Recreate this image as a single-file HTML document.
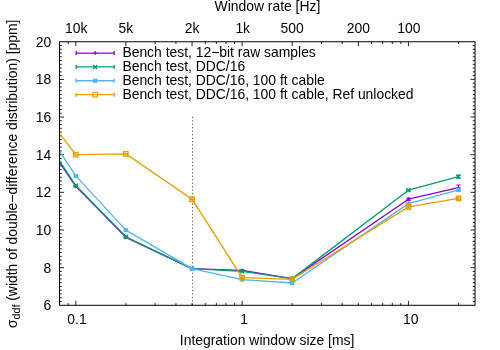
<!DOCTYPE html>
<html><head><meta charset="utf-8"><title>plot</title>
<style>html,body{margin:0;padding:0;background:#fff;}body{width:500px;height:350px;overflow:hidden;}svg{display:block;will-change:transform;}text{font-family:"Liberation Sans",sans-serif;font-size:13.9px;fill:#000;}</style>
</head><body>
<svg width="500" height="350" viewBox="0 0 500 350">
<rect x="0" y="0" width="500" height="350" fill="#ffffff"/>
<path d="M59.5 301.54h2.3M475.0 301.54h-2.3M59.5 297.77h2.3M475.0 297.77h-2.3M59.5 294.00h2.3M475.0 294.00h-2.3M59.5 290.24h2.3M475.0 290.24h-2.3M59.5 286.48h2.3M475.0 286.48h-2.3M59.5 282.71h2.3M475.0 282.71h-2.3M59.5 278.94h2.3M475.0 278.94h-2.3M59.5 275.18h2.3M475.0 275.18h-2.3M59.5 271.42h2.3M475.0 271.42h-2.3M59.5 267.65h4.5M475.0 267.65h-4.5M59.5 263.89h2.3M475.0 263.89h-2.3M59.5 260.12h2.3M475.0 260.12h-2.3M59.5 256.36h2.3M475.0 256.36h-2.3M59.5 252.59h2.3M475.0 252.59h-2.3M59.5 248.82h2.3M475.0 248.82h-2.3M59.5 245.06h2.3M475.0 245.06h-2.3M59.5 241.30h2.3M475.0 241.30h-2.3M59.5 237.53h2.3M475.0 237.53h-2.3M59.5 233.76h2.3M475.0 233.76h-2.3M59.5 230.00h4.5M475.0 230.00h-4.5M59.5 226.24h2.3M475.0 226.24h-2.3M59.5 222.47h2.3M475.0 222.47h-2.3M59.5 218.70h2.3M475.0 218.70h-2.3M59.5 214.94h2.3M475.0 214.94h-2.3M59.5 211.18h2.3M475.0 211.18h-2.3M59.5 207.41h2.3M475.0 207.41h-2.3M59.5 203.65h2.3M475.0 203.65h-2.3M59.5 199.88h2.3M475.0 199.88h-2.3M59.5 196.12h2.3M475.0 196.12h-2.3M59.5 192.35h4.5M475.0 192.35h-4.5M59.5 188.59h2.3M475.0 188.59h-2.3M59.5 184.82h2.3M475.0 184.82h-2.3M59.5 181.05h2.3M475.0 181.05h-2.3M59.5 177.29h2.3M475.0 177.29h-2.3M59.5 173.53h2.3M475.0 173.53h-2.3M59.5 169.76h2.3M475.0 169.76h-2.3M59.5 166.00h2.3M475.0 166.00h-2.3M59.5 162.23h2.3M475.0 162.23h-2.3M59.5 158.47h2.3M475.0 158.47h-2.3M59.5 154.70h4.5M475.0 154.70h-4.5M59.5 150.93h2.3M475.0 150.93h-2.3M59.5 147.17h2.3M475.0 147.17h-2.3M59.5 143.41h2.3M475.0 143.41h-2.3M59.5 139.64h2.3M475.0 139.64h-2.3M59.5 135.88h2.3M475.0 135.88h-2.3M59.5 132.11h2.3M475.0 132.11h-2.3M59.5 128.34h2.3M475.0 128.34h-2.3M59.5 124.58h2.3M475.0 124.58h-2.3M59.5 120.81h2.3M475.0 120.81h-2.3M59.5 117.05h4.5M475.0 117.05h-4.5M59.5 113.28h2.3M475.0 113.28h-2.3M59.5 109.52h2.3M475.0 109.52h-2.3M59.5 105.75h2.3M475.0 105.75h-2.3M59.5 101.99h2.3M475.0 101.99h-2.3M59.5 98.22h2.3M475.0 98.22h-2.3M59.5 94.46h2.3M475.0 94.46h-2.3M59.5 90.70h2.3M475.0 90.70h-2.3M59.5 86.93h2.3M475.0 86.93h-2.3M59.5 83.16h2.3M475.0 83.16h-2.3M59.5 79.40h4.5M475.0 79.40h-4.5M59.5 75.63h2.3M475.0 75.63h-2.3M59.5 71.87h2.3M475.0 71.87h-2.3M59.5 68.10h2.3M475.0 68.10h-2.3M59.5 64.34h2.3M475.0 64.34h-2.3M59.5 60.58h2.3M475.0 60.58h-2.3M59.5 56.81h2.3M475.0 56.81h-2.3M59.5 53.05h2.3M475.0 53.05h-2.3M59.5 49.28h2.3M475.0 49.28h-2.3M59.5 45.51h2.3M475.0 45.51h-2.3M68.19 305.3v-2.3M68.19 41.75v2.3M75.80 305.3v-4.5M75.80 41.75v4.5M125.87 305.3v-2.3M125.87 41.75v4.5M155.15 305.3v-2.3M155.15 41.75v2.3M175.93 305.3v-2.3M175.93 41.75v2.3M192.05 305.3v-2.3M192.05 41.75v4.5M205.22 305.3v-2.3M205.22 41.75v2.3M216.36 305.3v-2.3M216.36 41.75v2.3M226.00 305.3v-2.3M226.00 41.75v2.3M234.51 305.3v-2.3M234.51 41.75v2.3M242.12 305.3v-4.5M242.12 41.75v4.5M292.19 305.3v-2.3M292.19 41.75v4.5M321.47 305.3v-2.3M321.47 41.75v2.3M342.25 305.3v-2.3M342.25 41.75v2.3M358.37 305.3v-2.3M358.37 41.75v4.5M371.54 305.3v-2.3M371.54 41.75v2.3M382.68 305.3v-2.3M382.68 41.75v2.3M392.32 305.3v-2.3M392.32 41.75v2.3M400.83 305.3v-2.3M400.83 41.75v2.3M408.44 305.3v-4.5M408.44 41.75v4.5M458.51 305.3v-2.3M458.51 41.75v2.3" stroke="#000" stroke-width="0.85" fill="none"/>
<path d="M192.5 116.7V305.3" stroke="#000" stroke-width="0.8" stroke-dasharray="1.25 2.215" fill="none" opacity="0.8"/>
<text x="51.3" y="310.25" text-anchor="end">6</text>
<text x="51.3" y="272.60" text-anchor="end">8</text>
<text x="51.3" y="234.95" text-anchor="end">10</text>
<text x="51.3" y="197.30" text-anchor="end">12</text>
<text x="51.3" y="159.65" text-anchor="end">14</text>
<text x="51.3" y="122.00" text-anchor="end">16</text>
<text x="51.3" y="84.35" text-anchor="end">18</text>
<text x="51.3" y="46.70" text-anchor="end">20</text>
<text x="77.00" y="323.8" text-anchor="middle">0.1</text>
<text x="244.12" y="323.8" text-anchor="middle">1</text>
<text x="410.64" y="323.8" text-anchor="middle">10</text>
<text x="76.20" y="32.7" text-anchor="middle">10k</text>
<text x="125.87" y="32.7" text-anchor="middle">5k</text>
<text x="192.05" y="32.7" text-anchor="middle">2k</text>
<text x="242.72" y="32.7" text-anchor="middle">1k</text>
<text x="292.19" y="32.7" text-anchor="middle">500</text>
<text x="358.37" y="32.7" text-anchor="middle">200</text>
<text x="408.94" y="32.7" text-anchor="middle">100</text>
<text x="267.4" y="11.2" text-anchor="middle">Window rate [Hz]</text>
<text x="267.1" y="345.0" text-anchor="middle">Integration window size [ms]</text>
<text transform="translate(16.8 173.8) rotate(-90)" text-anchor="middle">σ<tspan font-size="10.7px" dy="3">ddf</tspan><tspan dy="-3"> (width of double−difference distribution) [ppm]</tspan></text>
<text x="122.4" y="57.40">Bench test, 12−bit raw samples</text>
<path d="M76.2 53.05H114.2M76.2 51.05v4M114.2 51.05v4" stroke="#9400d3" stroke-width="1.35" fill="none"/>
<path d="M93.20 53.05h4.0M95.20 51.05v4.0" stroke="#9400d3" stroke-width="1.1" fill="none"/>
<polyline points="59.50,162.40 75.80,186.30 125.87,237.30 192.05,268.70 242.12,270.40 292.19,278.60 408.44,199.20 458.51,187.60" stroke="#9400d3" stroke-width="1.35" fill="none" stroke-linejoin="round"/>
<path d="M75.80 185.80v1.00M73.60 185.80h4.4M73.60 186.80h4.4" stroke="#9400d3" stroke-width="1.1" fill="none"/>
<path d="M73.80 186.30h4.0M75.80 184.30v4.0" stroke="#9400d3" stroke-width="1.1" fill="none"/>
<path d="M125.87 236.80v1.00M123.67 236.80h4.4M123.67 237.80h4.4" stroke="#9400d3" stroke-width="1.1" fill="none"/>
<path d="M123.87 237.30h4.0M125.87 235.30v4.0" stroke="#9400d3" stroke-width="1.1" fill="none"/>
<path d="M192.05 268.30v0.80M189.85 268.30h4.4M189.85 269.10h4.4" stroke="#9400d3" stroke-width="1.1" fill="none"/>
<path d="M190.05 268.70h4.0M192.05 266.70v4.0" stroke="#9400d3" stroke-width="1.1" fill="none"/>
<path d="M242.12 270.00v0.80M239.92 270.00h4.4M239.92 270.80h4.4" stroke="#9400d3" stroke-width="1.1" fill="none"/>
<path d="M240.12 270.40h4.0M242.12 268.40v4.0" stroke="#9400d3" stroke-width="1.1" fill="none"/>
<path d="M292.19 278.20v0.80M289.99 278.20h4.4M289.99 279.00h4.4" stroke="#9400d3" stroke-width="1.1" fill="none"/>
<path d="M290.19 278.60h4.0M292.19 276.60v4.0" stroke="#9400d3" stroke-width="1.1" fill="none"/>
<path d="M408.44 198.00v2.40M406.24 198.00h4.4M406.24 200.40h4.4" stroke="#9400d3" stroke-width="1.1" fill="none"/>
<path d="M406.44 199.20h4.0M408.44 197.20v4.0" stroke="#9400d3" stroke-width="1.1" fill="none"/>
<path d="M458.51 185.00v5.20M456.31 185.00h4.4M456.31 190.20h4.4" stroke="#9400d3" stroke-width="1.1" fill="none"/>
<path d="M456.51 187.60h4.0M458.51 185.60v4.0" stroke="#9400d3" stroke-width="1.1" fill="none"/>
<text x="122.4" y="71.27">Bench test, DDC/16</text>
<path d="M76.2 66.92H114.2M76.2 64.92v4M114.2 64.92v4" stroke="#009e73" stroke-width="1.35" fill="none"/>
<path d="M93.20 64.92l4.0 4.0M93.20 68.92l4.0 -4.0" stroke="#009e73" stroke-width="1.3" fill="none"/>
<polyline points="59.50,160.80 75.80,185.50 125.87,236.80 192.05,268.70 242.12,271.40 292.19,278.60 408.44,190.20 458.51,176.70" stroke="#009e73" stroke-width="1.35" fill="none" stroke-linejoin="round"/>
<path d="M75.80 185.00v1.00M73.60 185.00h4.4M73.60 186.00h4.4" stroke="#009e73" stroke-width="1.1" fill="none"/>
<path d="M73.80 183.50l4.0 4.0M73.80 187.50l4.0 -4.0" stroke="#009e73" stroke-width="1.3" fill="none"/>
<path d="M125.87 236.30v1.00M123.67 236.30h4.4M123.67 237.30h4.4" stroke="#009e73" stroke-width="1.1" fill="none"/>
<path d="M123.87 234.80l4.0 4.0M123.87 238.80l4.0 -4.0" stroke="#009e73" stroke-width="1.3" fill="none"/>
<path d="M192.05 268.30v0.80M189.85 268.30h4.4M189.85 269.10h4.4" stroke="#009e73" stroke-width="1.1" fill="none"/>
<path d="M190.05 266.70l4.0 4.0M190.05 270.70l4.0 -4.0" stroke="#009e73" stroke-width="1.3" fill="none"/>
<path d="M242.12 271.00v0.80M239.92 271.00h4.4M239.92 271.80h4.4" stroke="#009e73" stroke-width="1.1" fill="none"/>
<path d="M240.12 269.40l4.0 4.0M240.12 273.40l4.0 -4.0" stroke="#009e73" stroke-width="1.3" fill="none"/>
<path d="M292.19 278.20v0.80M289.99 278.20h4.4M289.99 279.00h4.4" stroke="#009e73" stroke-width="1.1" fill="none"/>
<path d="M290.19 276.60l4.0 4.0M290.19 280.60l4.0 -4.0" stroke="#009e73" stroke-width="1.3" fill="none"/>
<path d="M408.44 189.50v1.40M406.24 189.50h4.4M406.24 190.90h4.4" stroke="#009e73" stroke-width="1.1" fill="none"/>
<path d="M406.44 188.20l4.0 4.0M406.44 192.20l4.0 -4.0" stroke="#009e73" stroke-width="1.3" fill="none"/>
<path d="M458.51 175.10v3.20M456.31 175.10h4.4M456.31 178.30h4.4" stroke="#009e73" stroke-width="1.1" fill="none"/>
<path d="M456.51 174.70l4.0 4.0M456.51 178.70l4.0 -4.0" stroke="#009e73" stroke-width="1.3" fill="none"/>
<text x="122.4" y="85.14">Bench test, DDC/16, 100 ft cable</text>
<path d="M76.2 80.79H114.2M76.2 78.79v4M114.2 78.79v4" stroke="#56b4e9" stroke-width="1.35" fill="none"/>
<path d="M93.20 80.79h4.0M95.20 78.79v4.0M93.20 78.79l4.0 4.0M93.20 82.79l4.0 -4.0" stroke="#56b4e9" stroke-width="1.3" fill="none"/>
<polyline points="59.50,150.90 75.80,175.90 125.87,230.10 192.05,268.70 242.12,279.60 292.19,283.00 408.44,203.60 458.51,189.80" stroke="#56b4e9" stroke-width="1.35" fill="none" stroke-linejoin="round"/>
<path d="M75.80 175.40v1.00M73.60 175.40h4.4M73.60 176.40h4.4" stroke="#56b4e9" stroke-width="1.1" fill="none"/>
<path d="M73.80 175.90h4.0M75.80 173.90v4.0M73.80 173.90l4.0 4.0M73.80 177.90l4.0 -4.0" stroke="#56b4e9" stroke-width="1.3" fill="none"/>
<path d="M125.87 229.60v1.00M123.67 229.60h4.4M123.67 230.60h4.4" stroke="#56b4e9" stroke-width="1.1" fill="none"/>
<path d="M123.87 230.10h4.0M125.87 228.10v4.0M123.87 228.10l4.0 4.0M123.87 232.10l4.0 -4.0" stroke="#56b4e9" stroke-width="1.3" fill="none"/>
<path d="M192.05 268.30v0.80M189.85 268.30h4.4M189.85 269.10h4.4" stroke="#56b4e9" stroke-width="1.1" fill="none"/>
<path d="M190.05 268.70h4.0M192.05 266.70v4.0M190.05 266.70l4.0 4.0M190.05 270.70l4.0 -4.0" stroke="#56b4e9" stroke-width="1.3" fill="none"/>
<path d="M242.12 279.20v0.80M239.92 279.20h4.4M239.92 280.00h4.4" stroke="#56b4e9" stroke-width="1.1" fill="none"/>
<path d="M240.12 279.60h4.0M242.12 277.60v4.0M240.12 277.60l4.0 4.0M240.12 281.60l4.0 -4.0" stroke="#56b4e9" stroke-width="1.3" fill="none"/>
<path d="M292.19 282.50v1.00M289.99 282.50h4.4M289.99 283.50h4.4" stroke="#56b4e9" stroke-width="1.1" fill="none"/>
<path d="M290.19 283.00h4.0M292.19 281.00v4.0M290.19 281.00l4.0 4.0M290.19 285.00l4.0 -4.0" stroke="#56b4e9" stroke-width="1.3" fill="none"/>
<path d="M408.44 202.60v2.00M406.24 202.60h4.4M406.24 204.60h4.4" stroke="#56b4e9" stroke-width="1.1" fill="none"/>
<path d="M406.44 203.60h4.0M408.44 201.60v4.0M406.44 201.60l4.0 4.0M406.44 205.60l4.0 -4.0" stroke="#56b4e9" stroke-width="1.3" fill="none"/>
<path d="M458.51 188.30v3.00M456.31 188.30h4.4M456.31 191.30h4.4" stroke="#56b4e9" stroke-width="1.1" fill="none"/>
<path d="M456.51 189.80h4.0M458.51 187.80v4.0M456.51 187.80l4.0 4.0M456.51 191.80l4.0 -4.0" stroke="#56b4e9" stroke-width="1.3" fill="none"/>
<text x="122.4" y="99.01">Bench test, DDC/16, 100 ft cable, Ref unlocked</text>
<path d="M76.2 94.66H114.2M76.2 92.66v4M114.2 92.66v4" stroke="#e69f00" stroke-width="1.35" fill="none"/>
<rect x="92.90" y="92.36" width="4.6" height="4.6" stroke="#e69f00" stroke-width="1.2" fill="#e69f00" fill-opacity="0"/>
<polyline points="59.50,133.60 75.80,154.70 125.87,153.90 192.05,199.20 242.12,277.60 292.19,279.30 408.44,206.90 458.51,198.30" stroke="#e69f00" stroke-width="1.35" fill="none" stroke-linejoin="round"/>
<path d="M75.80 154.40v0.60M73.60 154.40h4.4M73.60 155.00h4.4" stroke="#e69f00" stroke-width="1.1" fill="none"/>
<rect x="73.50" y="152.40" width="4.6" height="4.6" stroke="#e69f00" stroke-width="1.2" fill="#e69f00" fill-opacity="0.2"/>
<path d="M125.87 153.60v0.60M123.67 153.60h4.4M123.67 154.20h4.4" stroke="#e69f00" stroke-width="1.1" fill="none"/>
<rect x="123.57" y="151.60" width="4.6" height="4.6" stroke="#e69f00" stroke-width="1.2" fill="#e69f00" fill-opacity="0.2"/>
<path d="M192.05 198.80v0.80M189.85 198.80h4.4M189.85 199.60h4.4" stroke="#e69f00" stroke-width="1.1" fill="none"/>
<rect x="189.75" y="196.90" width="4.6" height="4.6" stroke="#e69f00" stroke-width="1.2" fill="#e69f00" fill-opacity="0.2"/>
<path d="M242.12 277.00v1.20M239.92 277.00h4.4M239.92 278.20h4.4" stroke="#e69f00" stroke-width="1.1" fill="none"/>
<rect x="239.82" y="275.30" width="4.6" height="4.6" stroke="#e69f00" stroke-width="1.2" fill="#e69f00" fill-opacity="0.2"/>
<path d="M292.19 278.70v1.20M289.99 278.70h4.4M289.99 279.90h4.4" stroke="#e69f00" stroke-width="1.1" fill="none"/>
<rect x="289.89" y="277.00" width="4.6" height="4.6" stroke="#e69f00" stroke-width="1.2" fill="#e69f00" fill-opacity="0.2"/>
<path d="M408.44 205.80v2.20M406.24 205.80h4.4M406.24 208.00h4.4" stroke="#e69f00" stroke-width="1.1" fill="none"/>
<rect x="406.14" y="204.60" width="4.6" height="4.6" stroke="#e69f00" stroke-width="1.2" fill="#e69f00" fill-opacity="0.2"/>
<path d="M458.51 197.20v2.20M456.31 197.20h4.4M456.31 199.40h4.4" stroke="#e69f00" stroke-width="1.1" fill="none"/>
<rect x="456.21" y="196.00" width="4.6" height="4.6" stroke="#e69f00" stroke-width="1.2" fill="#e69f00" fill-opacity="0.2"/>
<rect x="59.5" y="41.75" width="415.5" height="263.55" stroke="#000" stroke-width="1" fill="none"/>
</svg></body></html>
